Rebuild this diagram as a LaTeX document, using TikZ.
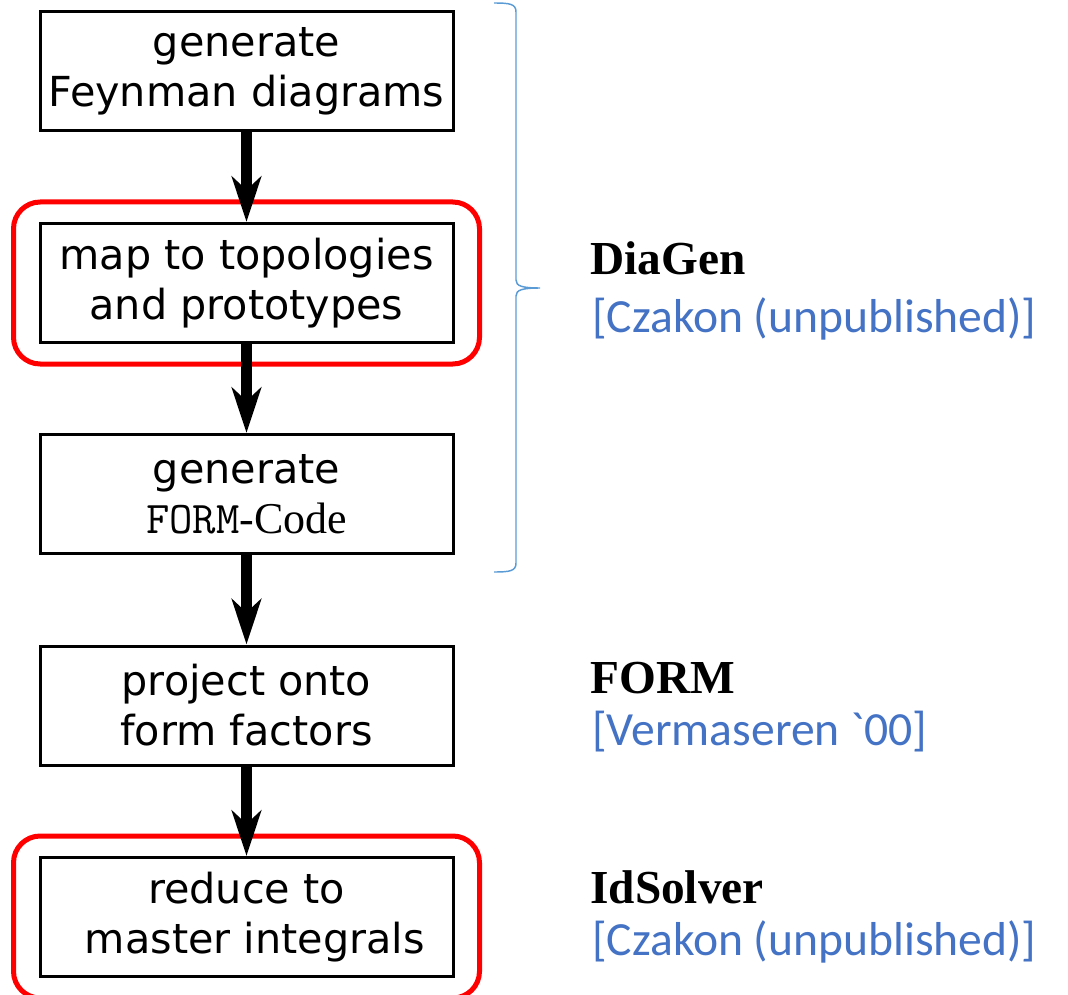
\documentclass[tikz,border=0pt]{standalone}
\usepackage{fontspec}
\setmainfont{DejaVu Sans}
\newfontfamily\timesfont{Liberation Serif}
\newfontfamily\calfont{Carlito}
\usetikzlibrary{arrows.meta,fit}
\definecolor{refblue}{HTML}{4472C4}
\definecolor{braceblue}{HTML}{5B9BD5}
\tikzset{
  stepbox/.style={draw=black, line width=2.25pt, minimum width=309.75pt, minimum height=89.25pt,
    inner sep=0pt, align=center, font=\fontsize{31pt}{37.5pt}\selectfont},
  redframe/.style={draw=red, line width=3.75pt, rounded corners=20pt, inner xsep=18.75pt, inner ysep=15pt},
  flow/.style={line width=8.25pt, -{Stealth[length=34pt,width=22pt,inset=10pt]}},
  toolname/.style={anchor=base west, inner sep=0pt, font=\timesfont\bfseries\fontsize{35.5pt}{40pt}\selectfont},
  cite/.style={anchor=base west, inner sep=0pt, text=refblue, font=\calfont\fontsize{35.7pt}{40pt}\selectfont},
}
\begin{document}
\begin{tikzpicture}[x=0.75pt,y=-0.75pt]
\useasboundingbox (0,0) rectangle (1068,995);
\node[stepbox] (b1) at (246.5,71.5) {generate\\Feynman diagrams};
\node[stepbox] (b2) at (246.5,283) {map to topologies\\and prototypes};
\node[stepbox] (b3) at (246.5,494) {generate\\{\ttfamily\fontsize{34pt}{37.5pt}\selectfont FORM}{\timesfont\fontsize{33pt}{37.5pt}\selectfont -Code}};
\node[stepbox] (b4) at (246.5,705.5) {project onto\\form factors};
\node[stepbox] (b5) at (246.5,917) {reduce to\\\hspace*{0.4em}master integrals};
\node[redframe, fit=(b2)] (r2) {};
\node[redframe, fit=(b5)] (r5) {};
\draw[flow] (b1) -- (b2);
\draw[flow] (b2) -- (b3);
\draw[flow] (b3) -- (b4);
\draw[flow] (b4) -- (b5);
\coordinate (bt) at (494,3);
\coordinate (bm) at (540,288);
\coordinate (bb) at (494,572);
\draw[braceblue, line width=1.1pt]
  (bt) .. controls (510,3) and (516,4) .. (516,12) -- (516,280)
  .. controls (516,286) and (522,288) .. (bm)
  .. controls (522,288) and (516,290) .. (516,296) -- (516,563)
  .. controls (516,571) and (510,572) .. (bb);
\node[toolname] (t1) at (590,275) {DiaGen};
\node[cite] (c1) at (592,332) {[Czakon (unpublished)]};
\node[toolname] (t2) at (590,693) {FORM};
\node[cite] (c2) at (592,745) {[Vermaseren `00]};
\node[toolname] (t3) at (590,903) {IdSolver};
\node[cite] (c3) at (592,955) {[Czakon (unpublished)]};
\end{tikzpicture}
\end{document}
